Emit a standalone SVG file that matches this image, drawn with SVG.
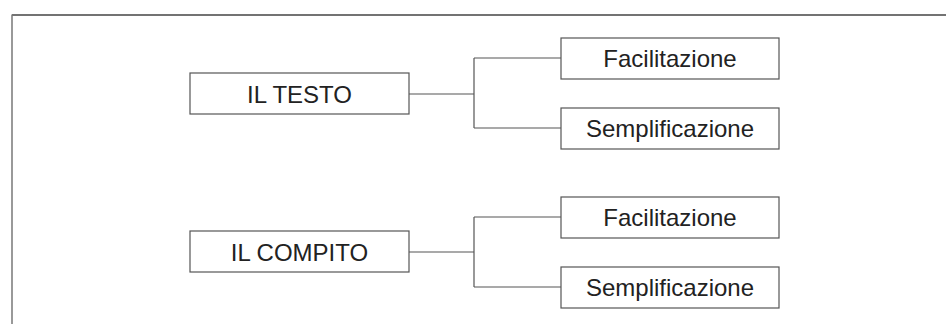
<svg xmlns="http://www.w3.org/2000/svg" width="946" height="324" viewBox="0 0 946 324">
<style>
.box{fill:#fff;stroke:#555;stroke-width:1.2}
.lbl{font-family:"Liberation Sans",Arial,sans-serif;font-size:24px;fill:#222;text-anchor:middle}
.con{fill:none;stroke:#555;stroke-width:1.2}
</style>
<rect x="0" y="0" width="946" height="324" fill="#fff"/>
<g id="frame">
<line x1="12" y1="15" x2="946" y2="15" stroke="#444" stroke-width="1.5"/>
<line x1="12" y1="14.5" x2="12" y2="324" stroke="#777" stroke-width="1.5"/>
</g>
<g id="connectors">
<path class="con" d="M409 94H474M474 58V128M474 58H561M474 128H561"/>
<path class="con" d="M409 252H474M474 217V287M474 217H561M474 287H561"/>
</g>
<g id="testo"><rect class="box" x="190" y="73" width="219" height="41"/><text class="lbl" x="299.5" y="102.5">IL TESTO</text></g>
<g id="facil1"><rect class="box" x="561" y="38" width="218" height="41"/><text class="lbl" x="670" y="67">Facilitazione</text></g>
<g id="sempl1"><rect class="box" x="561" y="108" width="218" height="41"/><text class="lbl" x="670" y="137">Semplificazione</text></g>
<g id="compito"><rect class="box" x="190" y="231" width="219" height="41"/><text class="lbl" x="299.5" y="260.5">IL COMPITO</text></g>
<g id="facil2"><rect class="box" x="561" y="197" width="218" height="41"/><text class="lbl" x="670" y="226">Facilitazione</text></g>
<g id="sempl2"><rect class="box" x="561" y="267" width="218" height="41"/><text class="lbl" x="670" y="296">Semplificazione</text></g>
</svg>
